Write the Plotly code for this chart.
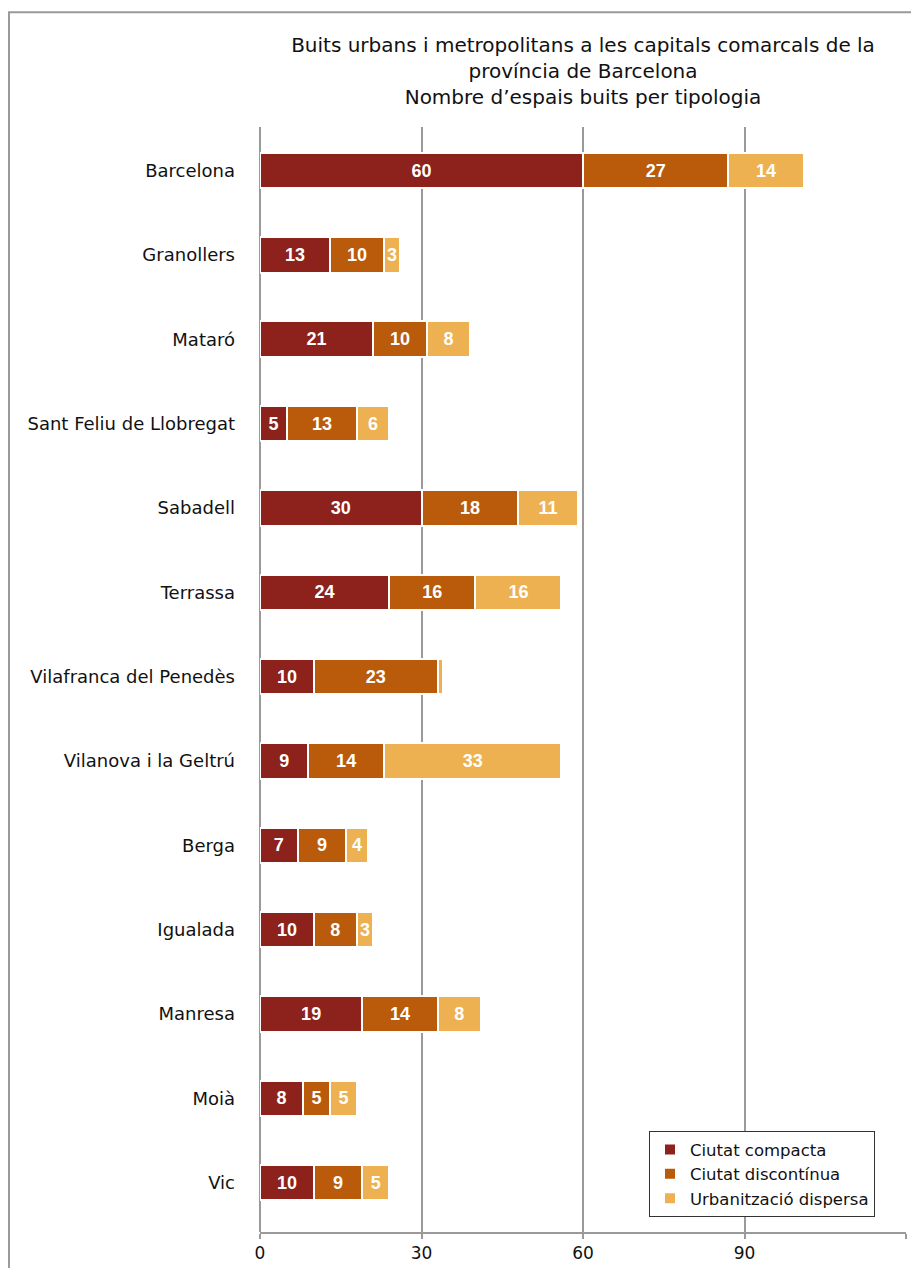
import plotly.graph_objects as go

categories = ["Barcelona", "Granollers", "Mataró", "Sant Feliu de Llobregat", "Sabadell",
              "Terrassa", "Vilafranca del Penedès", "Vilanova i la Geltrú", "Berga",
              "Igualada", "Manresa", "Moià", "Vic"]
ciutat_compacta = [60, 13, 21, 5, 30, 24, 10, 9, 7, 10, 19, 8, 10]
ciutat_discontinua = [27, 10, 10, 13, 18, 16, 23, 14, 9, 8, 14, 5, 9]
urbanitzacio_dispersa = [14, 3, 8, 6, 11, 16, 1, 33, 4, 3, 8, 5, 5]
series_names = ["Ciutat compacta", "Ciutat discontínua", "Urbanització dispersa"]
colors = ["#8C221B", "#BA5B0C", "#EEB152"]
x_ticks = [0, 30, 60, 90, 120]

title_lines = ["Buits urbans i metropolitans a les capitals comarcals de la",
               "província de Barcelona",
               "Nombre d’espais buits per tipologia"]

FONT = "DejaVu Sans, Verdana, sans-serif"

W, H = 911, 1268
L, R, T, B = 260, 5, 127, 23
plot_w = W - L - R
plot_h = H - T - B

fig = go.Figure()
for name, vals, col in zip(series_names,
                           [ciutat_compacta, ciutat_discontinua, urbanitzacio_dispersa],
                           colors):
    fig.add_trace(go.Bar(
        y=categories, x=vals, name=name, orientation="h",
        marker=dict(color=col, line=dict(color="white", width=2)),
        text=[f"<b>{v}</b>" if v >= 2 else "" for v in vals],
        texttemplate="%{text}",
        textposition="inside", insidetextanchor="middle",
        constraintext="none",
        textfont=dict(family="Liberation Sans, Arial, sans-serif", size=18, color="white"),
        hoverinfo="x+y+name",
    ))

fig.update_layout(
    barmode="stack",
    bargap=0.58,
    width=W, height=H,
    margin=dict(l=L, r=R, t=T, b=B),
    paper_bgcolor="white", plot_bgcolor="white",
    font=dict(family=FONT, color="#111"),
    title=dict(text="<br>".join(title_lines), x=0.5, xref="paper", xanchor="center",
               y=1 - 52 / H, yref="container", yanchor="top",
               font=dict(family=FONT, size=20, color="#111")),
    xaxis=dict(range=[0, 120], tickvals=x_ticks, ticktext=[str(t) for t in x_ticks],
               showgrid=True, gridcolor="#9a9a9a", gridwidth=2,
               zeroline=True, zerolinecolor="#9a9a9a", zerolinewidth=2,
               showline=True, linecolor="#9a9a9a", linewidth=2,
               ticks="outside", ticklen=5, tickwidth=2, tickcolor="#9a9a9a",
               tickfont=dict(family=FONT, size=17, color="#111")),
    yaxis=dict(categoryorder="array", categoryarray=categories,
               range=[12.586, -0.516], showgrid=False, zeroline=False,
               ticks="", ticklabelstandoff=24,
               tickfont=dict(family=FONT, size=18, color="#111")),
    legend=dict(x=(649 - L) / plot_w, y=(T + plot_h - 1143) / plot_h,
                xanchor="left", yanchor="top",
                bgcolor="white", bordercolor="#333", borderwidth=1,
                traceorder="normal", tracegroupgap=0,
                font=dict(family=FONT, size=16.5, color="#111"),
                itemwidth=30, entrywidth=214, entrywidthmode="pixels"),
    shapes=[dict(type="rect", xref="paper", yref="paper",
                 x0=(9 - L) / plot_w, x1=1.05, y0=-0.05,
                 y1=(T + plot_h - 11) / plot_h,
                 line=dict(color="#9a9a9a", width=2), fillcolor="rgba(0,0,0,0)",
                 layer="below")],
    showlegend=True,
)

# remove the default 8px body margin so the figure fills the window exactly
fig.write_html("out.html",
               config={"displayModeBar": False},
               post_script="document.body.style.margin='0';document.body.style.overflow='hidden';")
